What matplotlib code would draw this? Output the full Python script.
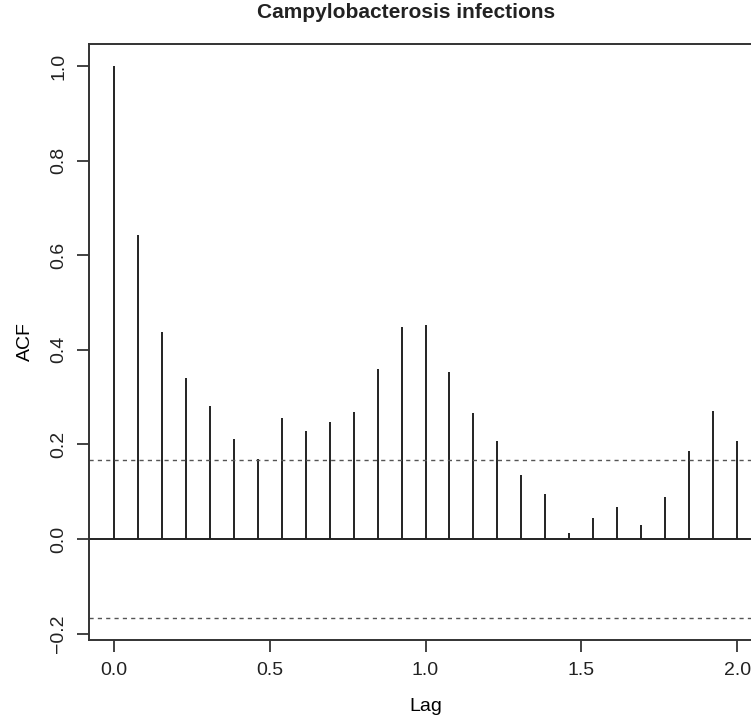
import numpy as np
import matplotlib
matplotlib.use("Agg")
import matplotlib.pyplot as plt

# ACF of campylobacterosis series, frequency 13 (lag in years)
freq = 13
acf_vals = [1.0, 0.643, 0.437, 0.340, 0.281, 0.211, 0.170, 0.256, 0.229,
            0.248, 0.268, 0.359, 0.449, 0.452, 0.352, 0.266, 0.207, 0.135,
            0.094, 0.013, 0.045, 0.068, 0.029, 0.089, 0.186, 0.271, 0.207]
ci = 0.167
x_ticks = [0.0, 0.5, 1.0, 1.5, 2.0]
y_ticks = [-0.2, 0.0, 0.2, 0.4, 0.6, 0.8, 1.0]

lags = np.arange(len(acf_vals)) / freq

plt.rcParams["font.family"] = ["Liberation Sans", "DejaVu Sans"]

fig = plt.figure(figsize=(7.51, 7.17), dpi=100)
ax = fig.add_axes([89 / 751, 77 / 717, 673 / 751, 596 / 717])

ax.vlines(lags, 0, acf_vals, color="#222222", lw=1.4)
ax.axhline(0, color="#222222", lw=1.4)
for c in (ci, -ci):
    ax.axhline(c, color="#555555", lw=1.0, ls=(0, (3, 3)))

ax.set_xlim(-0.08, 2.08)
ax.set_ylim(-0.2137, 1.0467)
ax.set_xticks(x_ticks)
ax.set_xticklabels(["%.1f" % v for v in x_ticks])
ax.set_yticks(y_ticks)
ax.set_yticklabels(["\u22120.2" if v < 0 else "%.1f" % v for v in y_ticks],
                   rotation=90, va="center")

ax.tick_params(direction="out", length=8.5, width=1.2, labelsize=14,
               pad=7, colors="#222222")
for s in ax.spines.values():
    s.set_color("#333333")
    s.set_linewidth(1.4)

ax.set_xlabel("Lag", fontsize=14, labelpad=14)
ax.set_ylabel("ACF", fontsize=14, labelpad=12)
fig.text(406 / 751, 1 - 13 / 717, "Campylobacterosis infections",
         ha="center", va="center", fontsize=15, fontweight="bold",
         color="#222222")

fig.savefig("out.png", dpi=100)
